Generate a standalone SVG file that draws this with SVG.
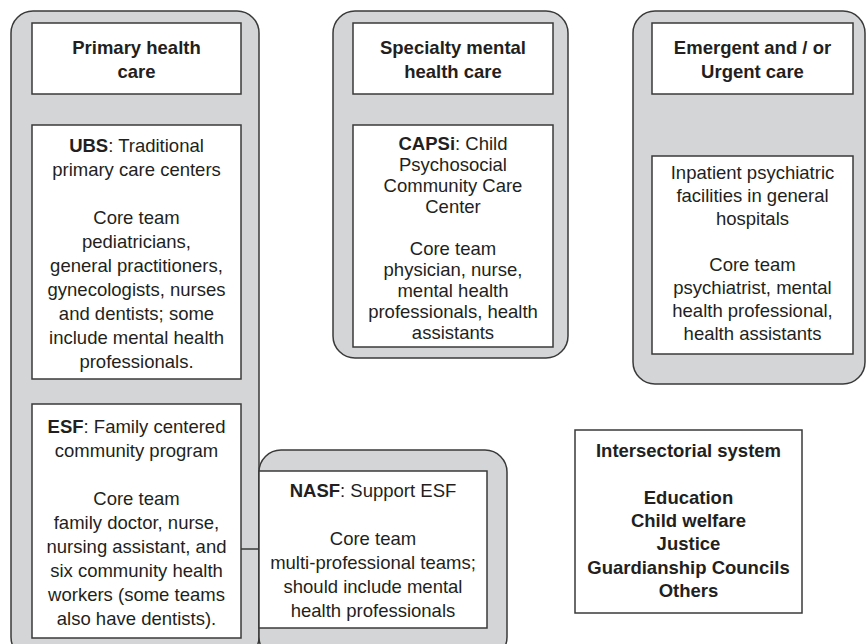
<svg xmlns="http://www.w3.org/2000/svg" width="867" height="644" viewBox="0 0 867 644">
<style>
.cont{fill:#d4d5d7;stroke:#3a3a3a;stroke-width:1.5}
.box{fill:#ffffff;stroke:#3a3a3a;stroke-width:1.5}
.conn{stroke:#3a3a3a;stroke-width:1.5;fill:none}
text{font-family:"Liberation Sans",Arial,sans-serif;font-size:18.5px;fill:#231f20;text-anchor:middle}
.b{font-weight:bold}
</style>
<rect width="867" height="644" fill="#ffffff"/>
<g id="primary-container">
<rect class="cont" x="11" y="11" width="248" height="648" rx="22"/>
</g>
<g id="nasf-container">
<rect class="cont" x="259" y="450" width="248" height="209" rx="22"/>
</g>
<g id="specialty-container">
<rect class="cont" x="333" y="11" width="235" height="347" rx="22"/>
</g>
<g id="emergent-container">
<rect class="cont" x="633" y="11" width="232" height="373" rx="22"/>
</g>
<g id="primary-header">
<rect class="box" x="32" y="23" width="209" height="71"/>
<text class="b" x="136.5" y="54">Primary health</text>
<text class="b" x="136.5" y="78">care</text>
</g>
<g id="ubs">
<rect class="box" x="32" y="125" width="209" height="254"/>
<text x="136.5" y="152"><tspan class="b">UBS</tspan>: Traditional</text>
<text x="136.5" y="176">primary care centers</text>
<text x="136.5" y="224">Core team</text>
<text x="136.5" y="248">pediatricians,</text>
<text x="136.5" y="272">general practitioners,</text>
<text x="136.5" y="296">gynecologists, nurses</text>
<text x="136.5" y="320">and dentists; some</text>
<text x="136.5" y="344">include mental health</text>
<text x="136.5" y="368">professionals.</text>
</g>
<g id="esf">
<rect class="box" x="32" y="404" width="209" height="234"/>
<text x="136.5" y="433"><tspan class="b">ESF</tspan>: Family centered</text>
<text x="136.5" y="457">community program</text>
<text x="136.5" y="505">Core team</text>
<text x="136.5" y="529">family doctor, nurse,</text>
<text x="136.5" y="553">nursing assistant, and</text>
<text x="136.5" y="577">six community health</text>
<text x="136.5" y="601">workers (some teams</text>
<text x="136.5" y="625">also have dentists).</text>
</g>
<g id="nasf">
<rect class="box" x="259" y="471" width="228" height="157"/>
<text x="373" y="497"><tspan class="b">NASF</tspan>: Support ESF</text>
<text x="373" y="545">Core team</text>
<text x="373" y="569">multi-professional teams;</text>
<text x="373" y="593">should include mental</text>
<text x="373" y="617">health professionals</text>
</g>
<g id="specialty-header">
<rect class="box" x="353" y="23" width="200" height="71"/>
<text class="b" x="453" y="54">Specialty mental</text>
<text class="b" x="453" y="78">health care</text>
</g>
<g id="capsi">
<rect class="box" x="353" y="125" width="200" height="222"/>
<text x="453" y="150"><tspan class="b">CAPSi</tspan>: Child</text>
<text x="453" y="171">Psychosocial</text>
<text x="453" y="192">Community Care</text>
<text x="453" y="213">Center</text>
<text x="453" y="255">Core team</text>
<text x="453" y="276">physician, nurse,</text>
<text x="453" y="297">mental health</text>
<text x="453" y="318">professionals, health</text>
<text x="453" y="339">assistants</text>
</g>
<g id="emergent-header">
<rect class="box" x="652" y="23" width="201" height="71"/>
<text class="b" x="752.5" y="54">Emergent and / or</text>
<text class="b" x="752.5" y="78">Urgent care</text>
</g>
<g id="inpatient">
<rect class="box" x="652" y="156" width="201" height="198"/>
<text x="752.5" y="179">Inpatient psychiatric</text>
<text x="752.5" y="202">facilities in general</text>
<text x="752.5" y="225">hospitals</text>
<text x="752.5" y="271">Core team</text>
<text x="752.5" y="294">psychiatrist, mental</text>
<text x="752.5" y="317">health professional,</text>
<text x="752.5" y="340">health assistants</text>
</g>
<g id="intersectorial">
<rect class="box" x="575" y="430" width="227" height="183"/>
<text class="b" x="688.5" y="457">Intersectorial system</text>
<text class="b" x="688.5" y="504">Education</text>
<text class="b" x="688.5" y="527">Child welfare</text>
<text class="b" x="688.5" y="550">Justice</text>
<text class="b" x="688.5" y="574">Guardianship Councils</text>
<text class="b" x="688.5" y="597">Others</text>
</g>
<g id="connectors">
<line class="conn" x1="241" y1="549" x2="259" y2="549"/>
</g>
</svg>
